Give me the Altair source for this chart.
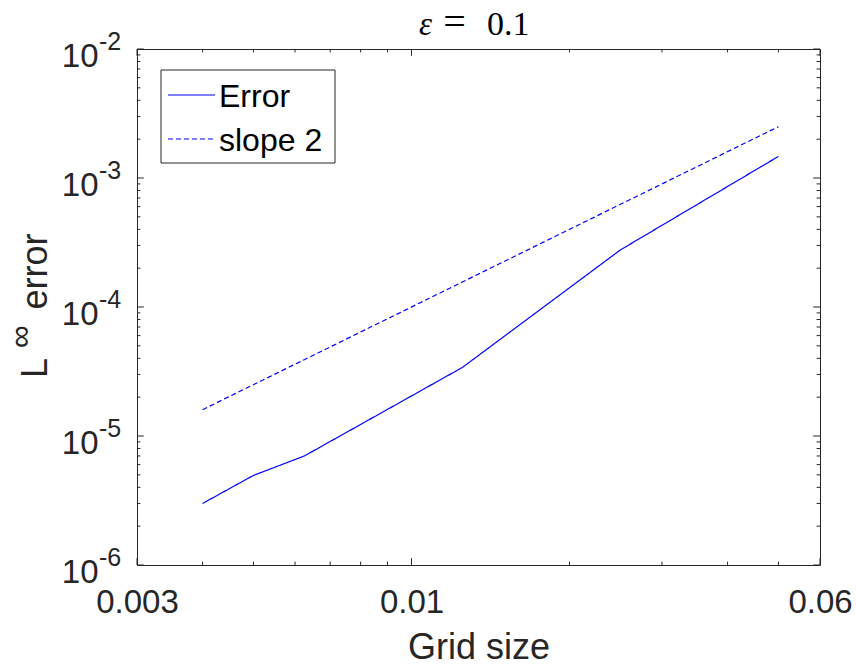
import altair as alt
import pandas as pd

# ---------------- data ----------------
h = [0.004, 0.005, 0.00625, 0.0125, 0.025, 0.05]
err = [3.0e-6, 4.95e-6, 7.0e-6, 3.4e-5, 2.77e-4, 1.47e-3]
slope2 = [1.6e-5, 2.5e-5, 3.906e-5, 1.5625e-4, 6.25e-4, 2.5e-3]
series_names = ["Error", "slope 2"]

x_tick_labels = [0.003, 0.01, 0.06]
x_major = [0.003, 0.01, 0.06]
x_minor = [0.004, 0.005, 0.006, 0.007, 0.008, 0.009, 0.02, 0.03, 0.04, 0.05]
y_major = [1e-6, 1e-5, 1e-4, 1e-3, 1e-2]
y_exponents = ["-6", "-5", "-4", "-3", "-2"]
mantissas = [2, 3, 4, 5, 6, 7, 8, 9]
decades = [1e-6, 1e-5, 1e-4, 1e-3]
y_minor = [m * d for d in decades for m in mantissas]

title_parts = ["ε", "=", "0.1"]
x_title = "Grid size"
y_title_parts = ["L", "∞", "error"]

# ---------------- layout ----------------
W, H = 683, 516
AX = "#262626"
BLUE = "#0000ff"
FONT = "Liberation Sans"
MAJ, MIN = 6.8, 3.4

xs = alt.Scale(type="log", domain=[0.003, 0.06], nice=False)
ys = alt.Scale(type="log", domain=[1e-6, 1e-2], nice=False)
dash_scale = alt.Scale(domain=series_names, range=[[1, 0], [5, 3]])

df = pd.DataFrame({
    "h": h + h,
    "value": err + slope2,
    "series": [series_names[0]] * len(h) + [series_names[1]] * len(h),
})

xaxis = alt.Axis(
    values=x_tick_labels, format="~g", ticks=False, tickSize=0, domain=False,
    grid=False, labelFontSize=33, labelBaseline="alphabetic", labelPadding=47,
    labelFlush=False, labelColor=AX, labelFont=FONT, labelOverlap=False,
    title=x_title, titleFontSize=36, titleFontWeight="normal", titleFont=FONT,
    titleBaseline="alphabetic", titleY=93, titleColor=AX,
)

lines = alt.Chart(df).mark_line(strokeWidth=1.2, color=BLUE).encode(
    x=alt.X("h:Q", scale=xs, axis=xaxis),
    y=alt.Y("value:Q", scale=ys, axis=None),
    strokeDash=alt.StrokeDash("series:N", scale=dash_scale, legend=None),
)


def yticks(vals, length):
    d = pd.DataFrame({"v": vals})
    left = alt.Chart(d).mark_rule(color=AX, strokeWidth=1).encode(
        y=alt.Y("v:Q", scale=ys, axis=None), x=alt.value(0), x2=alt.value(length))
    right = alt.Chart(d).mark_rule(color=AX, strokeWidth=1).encode(
        y=alt.Y("v:Q", scale=ys, axis=None), x=alt.value(W), x2=alt.value(W - length))
    return [left, right]


def xticks(vals, length):
    d = pd.DataFrame({"v": vals})
    bottom = alt.Chart(d).mark_rule(color=AX, strokeWidth=1).encode(
        x=alt.X("v:Q", scale=xs), y=alt.value(H), y2=alt.value(H - length))
    top = alt.Chart(d).mark_rule(color=AX, strokeWidth=1).encode(
        x=alt.X("v:Q", scale=xs), y=alt.value(0), y2=alt.value(length))
    return [bottom, top]


ticks = yticks(y_major, MAJ) + yticks(y_minor, MIN) + xticks(x_major, MAJ) + xticks(x_minor, MIN)

ylab_df = pd.DataFrame({"v": y_major, "exp": y_exponents, "base": ["10"] * len(y_major)})
ylab_base = alt.Chart(ylab_df).mark_text(
    align="right", baseline="alphabetic", dy=17.5, fontSize=33, color=AX, font=FONT
).encode(y=alt.Y("v:Q", scale=ys, axis=None), x=alt.value(-38.5), text="base:N")
ylab_exp = alt.Chart(ylab_df).mark_text(
    align="left", baseline="alphabetic", dy=0.5, fontSize=25, color=AX, font=FONT
).encode(y=alt.Y("v:Q", scale=ys, axis=None), x=alt.value(-38), text="exp:N")


def label(text, x, y, **kw):
    return alt.Chart(pd.DataFrame({"t": [text]})).mark_text(**kw).encode(
        x=alt.value(x), y=alt.value(y), text="t:N")


titles = [
    label(title_parts[0], 282, -14, align="left", baseline="alphabetic", fontSize=33,
          font="Liberation Serif", fontStyle="italic", color="black"),
    label(title_parts[1], 317.5, -14, align="center", baseline="alphabetic", fontSize=40,
          font="Liberation Serif", color="black"),
    label(title_parts[2], 350, -14, align="left", baseline="alphabetic", fontSize=34,
          font="Liberation Serif", color="black"),
    label(y_title_parts[0], -90, 329, align="left", baseline="alphabetic", angle=270,
          fontSize=36, font=FONT, color=AX),
    label(y_title_parts[1], -106, 299, align="left", baseline="alphabetic", angle=270,
          fontSize=32, font=FONT, color=AX),
    label(y_title_parts[2], -90, 260.5, align="left", baseline="alphabetic", angle=270,
          fontSize=36, font=FONT, color=AX),
]

# ---------------- legend (drawn with marks) ----------------
legend_box = alt.Chart(pd.DataFrame({"k": [0]})).mark_rect(
    fill="white", stroke=AX, strokeWidth=1
).encode(x=alt.value(24), x2=alt.value(198), y=alt.value(21), y2=alt.value(114))

legend_layers = [legend_box]
row_y = [46, 90]
for i, name in enumerate(series_names):
    d = pd.DataFrame({"series": [name]})
    legend_layers.append(
        alt.Chart(d).mark_rule(strokeWidth=1.2, color=BLUE).encode(
            x=alt.value(31), x2=alt.value(78), y=alt.value(row_y[i]),
            strokeDash=alt.StrokeDash("series:N", scale=dash_scale, legend=None))
    )
    legend_layers.append(
        alt.Chart(d).mark_text(align="left", baseline="alphabetic", fontSize=32,
                               font=FONT, color="black").encode(
            x=alt.value(82), y=alt.value(row_y[i] + 12), text="series:N")
    )

chart = alt.layer(lines, *ticks, ylab_base, ylab_exp, *titles, *legend_layers).properties(
    width=W, height=H,
    autosize=alt.AutoSizeParams(type="none"),
    padding={"left": 137, "top": 49, "right": 37, "bottom": 101},
    background="white",
).configure_view(stroke=AX, strokeWidth=1)

chart.save("out.html", embed_options={"renderer": "svg", "actions": False})
